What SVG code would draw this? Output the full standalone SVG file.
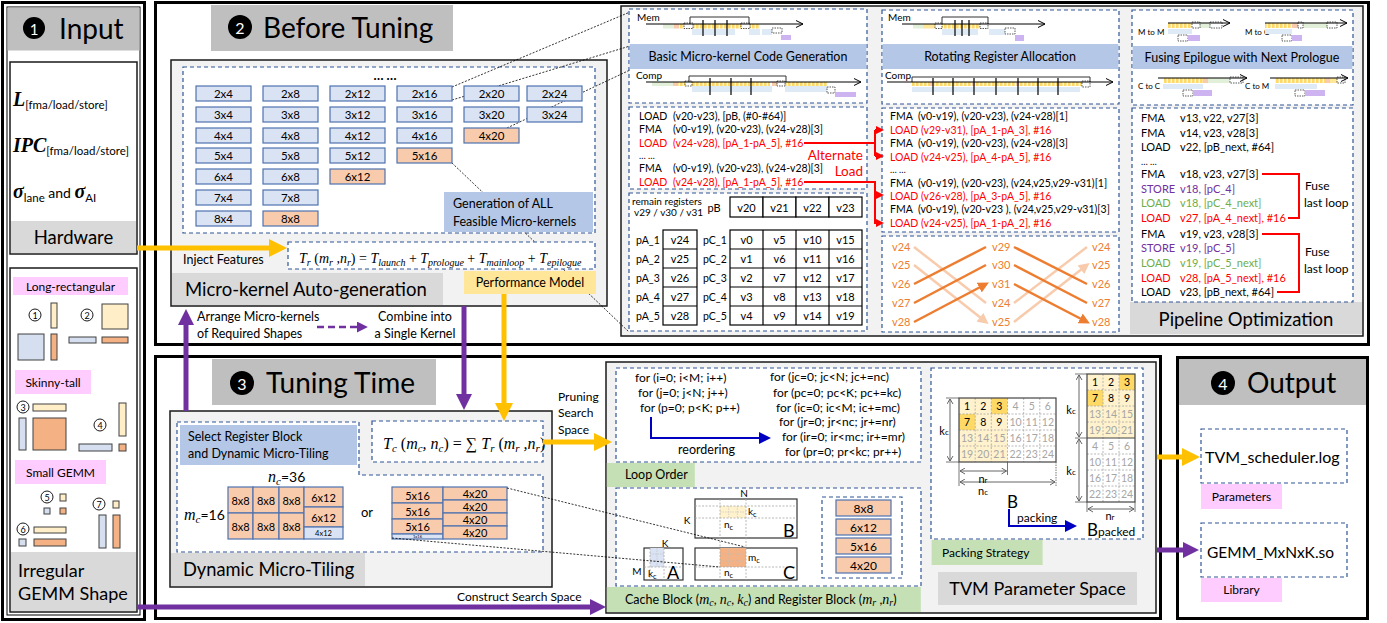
<svg xmlns="http://www.w3.org/2000/svg" width="1387" height="623" viewBox="0 0 1387 623">
<defs>
<style>
text{font-family:Lato,"Liberation Sans",sans-serif;fill:#000}
.m{font-family:"Liberation Serif",serif;font-style:italic}
.bi{font-family:"Liberation Serif",serif;font-style:italic;font-weight:bold}
.panel{fill:#fff;stroke:#000;stroke-width:3}
.inner{fill:none;stroke:#000;stroke-width:1}
.box{fill:#f2f2f2;stroke:#1a1a1a;stroke-width:1.5}
.wbox{fill:#fff;stroke:#1a1a1a;stroke-width:1.5}
.hdr{fill:#bfbfbf}
.ftr{fill:#d9d9d9}
.dash{fill:#fff;stroke:#2f5597;stroke-width:1.2;stroke-dasharray:4 3}
.blue{fill:#b4c7e7}
.green{fill:#c5e0b4}
.pink{fill:#ffccff}
.yel{fill:#ffe699}
.cb{fill:#dae3f3;stroke:#4f72b0;stroke-width:1.2}
.co{fill:#f8cbad;stroke:#4f72b0;stroke-width:1.2}
.c{text-anchor:middle;dominant-baseline:central}
.tc{font-size:11.5px;text-anchor:middle;dominant-baseline:central}
.reg{fill:#fff;stroke:#000;stroke-width:1.2}
.sy{fill:#ffeec8;stroke:#404040;stroke-width:1}
.sb{fill:#d5dfef;stroke:#404040;stroke-width:1}
.so{fill:#f4b183;stroke:#404040;stroke-width:1}
.cn{fill:#fff;stroke:#000;stroke-width:0.9}
.db{fill:#fff;stroke:#333;stroke-width:0.8;stroke-dasharray:1.5 1}
.tg{fill:#e2f0d9}.to{fill:#f8cbad}.tb{fill:#deebf7}.tp{fill:#cdb4f0}
.tick{stroke:#000;stroke-width:1.2}
.brk{fill:none;stroke:#333;stroke-width:1}
.tl{fill:none;stroke:#000;stroke-width:1;marker-end:url(#hK)}
.code{font-size:10.5px}
.red{fill:#ff0000}
.pur{fill:#7030a0}
.grn{fill:#70ad47}
.org{fill:#ed7d31;font-size:11px}
.link{fill:none;stroke:#000;stroke-width:0.8;stroke-dasharray:2 1.5}
.dim{fill:none;stroke:#555;stroke-width:0.9;marker-start:url(#hD);marker-end:url(#hD)}
.ext{fill:none;stroke:#555;stroke-width:0.8}
.dot{fill:none;stroke:#a6a6a6;stroke-width:0.8;stroke-dasharray:2 1.5}
.mat{fill:#fff;stroke:#333;stroke-width:1.2}
.n{font-size:10.5px;text-anchor:middle;dominant-baseline:central;fill:#a6a6a6}
.nk{font-size:10.5px;text-anchor:middle;dominant-baseline:central;fill:#000}
</style>
<pattern id="ys" patternUnits="userSpaceOnUse" width="4" height="8"><rect width="4" height="8" fill="#fff6dc"/><rect width="2.6" height="8" fill="#ffd966"/></pattern>
<marker id="hY" markerUnits="userSpaceOnUse" markerWidth="18" markerHeight="18" viewBox="0 0 18 18" refX="1" refY="9" orient="auto"><path d="M0,0L18,9L0,18z" fill="#ffc000"/></marker>
<marker id="hP" markerUnits="userSpaceOnUse" markerWidth="16" markerHeight="16" viewBox="0 0 16 16" refX="1" refY="8" orient="auto"><path d="M0,0L16,8L0,16z" fill="#7030a0"/></marker>
<marker id="hPs" markerUnits="userSpaceOnUse" markerWidth="11" markerHeight="11" viewBox="0 0 10 10" refX="1" refY="5" orient="auto"><path d="M0,0L10,5L0,10z" fill="#7030a0"/></marker>
<marker id="hR" markerUnits="userSpaceOnUse" markerWidth="8" markerHeight="8" viewBox="0 0 8 8" refX="1" refY="4" orient="auto"><path d="M0,0L8,4L0,8z" fill="#ff0000"/></marker>
<marker id="hB" markerUnits="userSpaceOnUse" markerWidth="12" markerHeight="12" viewBox="0 0 12 12" refX="1" refY="6" orient="auto"><path d="M0,0L12,6L0,12z" fill="#0000c0"/></marker>
<marker id="hO" markerUnits="userSpaceOnUse" markerWidth="11" markerHeight="11" viewBox="0 0 10 10" refX="7" refY="5" orient="auto"><path d="M0,0L10,5L0,10z" fill="#ed7d31"/></marker>
<marker id="hL" markerUnits="userSpaceOnUse" markerWidth="11" markerHeight="11" viewBox="0 0 10 10" refX="7" refY="5" orient="auto"><path d="M0,0L10,5L0,10z" fill="#f8cbad"/></marker>
<marker id="hK" markerUnits="userSpaceOnUse" markerWidth="9" markerHeight="9" viewBox="0 0 9 9" refX="8" refY="4.5" orient="auto"><path d="M1,1L8,4.5L1,8" fill="none" stroke="#000" stroke-width="1"/></marker>
<marker id="hD" markerUnits="userSpaceOnUse" markerWidth="7" markerHeight="7" viewBox="0 0 7 7" refX="6" refY="3.5" orient="auto-start-reverse"><path d="M1,0.5L6,3.5L1,6.5" fill="none" stroke="#555" stroke-width="0.9"/></marker>
</defs>

<rect width="1387" height="623" fill="#fff"/>

<!-- ===== 1 Input ===== -->
<g id="input-panel">
<rect class="panel" x="2.5" y="2.5" width="142" height="617"/>
<rect class="inner" x="7" y="7" width="133" height="608"/>
<rect class="hdr" x="7.5" y="7.5" width="132" height="43"/>
<circle cx="34" cy="28" r="11"/>
<text class="c" x="34" y="28.5" font-size="15" style="fill:#fff">1</text>
<text x="59" y="39" font-size="28">Input</text>
</g>

<g id="hardware">
<rect class="wbox" x="10" y="62" width="127" height="192"/>
<rect class="ftr" x="11" y="221" width="125" height="32"/>
<text x="73.5" y="244" font-size="18.5" text-anchor="middle">Hardware</text>
<text x="13" y="106"><tspan class="bi" font-size="20">L</tspan><tspan font-size="11.5" dy="3">[fma/load/store]</tspan></text>
<text x="13" y="152"><tspan class="bi" font-size="20">IPC</tspan><tspan font-size="11.5" dy="3">[fma/load/store]</tspan></text>
<text x="13" y="198"><tspan class="bi" font-size="20">σ</tspan><tspan font-size="11.5" dy="4">lane</tspan><tspan font-size="14" dy="-4"> and </tspan><tspan class="bi" font-size="20">σ</tspan><tspan font-size="11.5" dy="4">AI</tspan></text>
</g>

<g id="gemm-shapes">
<rect class="wbox" x="10" y="268" width="127" height="344"/>
<rect class="ftr" x="11" y="552" width="125" height="59"/>
<text x="18" y="577" font-size="18">Irregular</text>
<text x="18" y="600" font-size="18">GEMM Shape</text>
<rect class="pink" x="13" y="277" width="115" height="18"/>
<text class="c" x="70.5" y="286" font-size="12">Long-rectangular</text>
<rect class="pink" x="15" y="370" width="76" height="24"/>
<text class="c" x="53" y="382" font-size="12">Skinny-tall</text>
<rect class="pink" x="15" y="460" width="91" height="24"/>
<text class="c" x="60.5" y="472" font-size="12">Small GEMM</text>
<circle class="cn" cx="35" cy="315" r="6"/><text class="c" x="35" y="315.5" font-size="9">1</text>
<rect class="sy" x="51" y="303" width="6" height="25"/><rect class="sb" x="18" y="334" width="26" height="26"/><rect class="so" x="51" y="334" width="6" height="26"/>
<circle class="cn" cx="87" cy="315" r="6"/><text class="c" x="87" y="315.5" font-size="9">2</text>
<rect class="sy" x="102" y="304" width="26" height="25"/><rect class="sb" x="69" y="337" width="27" height="6"/><rect class="so" x="102" y="337" width="26" height="6"/>
<circle class="cn" cx="23" cy="407" r="6"/><text class="c" x="23" y="407.5" font-size="9">3</text>
<rect class="sy" x="33" y="404" width="33" height="7"/><rect class="sb" x="19" y="418" width="7" height="32"/><rect class="so" x="33" y="418" width="33" height="32"/>
<circle class="cn" cx="100" cy="425" r="6"/><text class="c" x="100" y="425.5" font-size="9">4</text>
<rect class="sy" x="119" y="403" width="7" height="33"/><rect class="sb" x="79" y="444" width="33" height="7"/><rect class="so" x="119" y="444" width="7" height="7"/>
<circle class="cn" cx="47" cy="497" r="6"/><text class="c" x="47" y="497.5" font-size="9">5</text>
<rect class="sy" x="60" y="494" width="6" height="7"/><rect class="sb" x="44" y="508" width="6" height="6"/><rect class="so" x="60" y="508" width="6" height="6"/>
<circle class="cn" cx="99" cy="504" r="6"/><text class="c" x="99" y="504.5" font-size="9">7</text>
<rect class="sy" x="113" y="501" width="6" height="7"/><rect class="sb" x="99" y="515" width="7" height="33"/><rect class="so" x="113" y="515" width="7" height="33"/>
<circle class="cn" cx="23" cy="529" r="6"/><text class="c" x="23" y="529.5" font-size="9">6</text>
<rect class="sy" x="34" y="527" width="32" height="6"/><rect class="sb" x="19" y="539" width="7" height="7"/><rect class="so" x="34" y="539" width="32" height="7"/>
</g>

<!-- ===== 2 Before Tuning ===== -->
<g id="before-tuning">
<rect class="panel" x="155.5" y="2.5" width="1213" height="342"/>
<rect class="hdr" x="211" y="5" width="242" height="46"/>
<circle cx="240" cy="27" r="12"/>
<text class="c" x="240" y="27.5" font-size="16" style="fill:#fff">2</text>
<text x="263" y="38" font-size="28">Before Tuning</text>
</g>

<g id="pipeline-optimization">
<rect class="box" x="621" y="6" width="742" height="330"/>
<rect class="ftr" x="1130" y="302" width="232" height="32"/>
<text x="1246" y="326" font-size="18.5" text-anchor="middle">Pipeline Optimization</text>
</g>

<g id="microkernel-autogen">
<rect class="box" x="171" y="60" width="436" height="246"/>
<rect class="dash" x="183" y="67" width="412" height="166"/>
<text x="385" y="80" font-size="13" text-anchor="middle" font-weight="bold">… …</text>
</g>

<g id="connectors-kernel-links">
<path class="link" d="M452,87L630,12"/>
<path class="link" d="M452,100L630,46"/>
<path class="link" d="M507,128L630,70"/>
<path class="link" d="M452,163L629,332"/>
</g>

<g id="kernel-grid">
<g id="k2x4"><rect class="cb" x="196" y="86" width="55" height="15"/><text class="tc" x="223.5" y="93.5">2x4</text></g>
<g id="k2x8"><rect class="cb" x="263" y="86" width="55" height="15"/><text class="tc" x="290.5" y="93.5">2x8</text></g>
<g id="k2x12"><rect class="cb" x="330" y="86" width="55" height="15"/><text class="tc" x="357.5" y="93.5">2x12</text></g>
<g id="k2x16"><rect class="cb" x="397" y="86" width="55" height="15"/><text class="tc" x="424.5" y="93.5">2x16</text></g>
<g id="k2x20"><rect class="cb" x="464" y="86" width="55" height="15"/><text class="tc" x="491.5" y="93.5">2x20</text></g>
<g id="k2x24"><rect class="cb" x="527" y="86" width="55" height="15"/><text class="tc" x="554.5" y="93.5">2x24</text></g>
<g id="k3x4"><rect class="cb" x="196" y="107" width="55" height="15"/><text class="tc" x="223.5" y="114.5">3x4</text></g>
<g id="k3x8"><rect class="cb" x="263" y="107" width="55" height="15"/><text class="tc" x="290.5" y="114.5">3x8</text></g>
<g id="k3x12"><rect class="cb" x="330" y="107" width="55" height="15"/><text class="tc" x="357.5" y="114.5">3x12</text></g>
<g id="k3x16"><rect class="cb" x="397" y="107" width="55" height="15"/><text class="tc" x="424.5" y="114.5">3x16</text></g>
<g id="k3x20"><rect class="cb" x="464" y="107" width="55" height="15"/><text class="tc" x="491.5" y="114.5">3x20</text></g>
<g id="k3x24"><rect class="cb" x="527" y="107" width="55" height="15"/><text class="tc" x="554.5" y="114.5">3x24</text></g>
<g id="k4x4"><rect class="cb" x="196" y="128" width="55" height="15"/><text class="tc" x="223.5" y="135.5">4x4</text></g>
<g id="k4x8"><rect class="cb" x="263" y="128" width="55" height="15"/><text class="tc" x="290.5" y="135.5">4x8</text></g>
<g id="k4x12"><rect class="cb" x="330" y="128" width="55" height="15"/><text class="tc" x="357.5" y="135.5">4x12</text></g>
<g id="k4x16"><rect class="cb" x="397" y="128" width="55" height="15"/><text class="tc" x="424.5" y="135.5">4x16</text></g>
<g id="k4x20"><rect class="co" x="464" y="128" width="55" height="15"/><text class="tc" x="491.5" y="135.5">4x20</text></g>
<g id="k5x4"><rect class="cb" x="196" y="148" width="55" height="15"/><text class="tc" x="223.5" y="155.5">5x4</text></g>
<g id="k5x8"><rect class="cb" x="263" y="148" width="55" height="15"/><text class="tc" x="290.5" y="155.5">5x8</text></g>
<g id="k5x12"><rect class="cb" x="330" y="148" width="55" height="15"/><text class="tc" x="357.5" y="155.5">5x12</text></g>
<g id="k5x16"><rect class="co" x="397" y="148" width="55" height="15"/><text class="tc" x="424.5" y="155.5">5x16</text></g>
<g id="k6x4"><rect class="cb" x="196" y="169" width="55" height="15"/><text class="tc" x="223.5" y="176.5">6x4</text></g>
<g id="k6x8"><rect class="cb" x="263" y="169" width="55" height="15"/><text class="tc" x="290.5" y="176.5">6x8</text></g>
<g id="k6x12"><rect class="co" x="330" y="169" width="55" height="15"/><text class="tc" x="357.5" y="176.5">6x12</text></g>
<g id="k7x4"><rect class="cb" x="196" y="190" width="55" height="15"/><text class="tc" x="223.5" y="197.5">7x4</text></g>
<g id="k7x8"><rect class="cb" x="263" y="190" width="55" height="15"/><text class="tc" x="290.5" y="197.5">7x8</text></g>
<g id="k8x4"><rect class="cb" x="196" y="211" width="55" height="15"/><text class="tc" x="223.5" y="218.5">8x4</text></g>
<g id="k8x8"><rect class="co" x="263" y="211" width="55" height="15"/><text class="tc" x="290.5" y="218.5">8x8</text></g>
</g>

<g id="generation-label">
<rect class="blue" x="444" y="192" width="149" height="40"/>
<text x="453" y="208" font-size="12.5">Generation of ALL</text>
<text x="453" y="226" font-size="12.5">Feasible Micro-kernels</text>
</g>

<g id="performance-model">
<rect class="dash" x="288" y="242" width="307" height="27"/>
<text x="299" y="263" class="m" font-size="14">T<tspan font-size="10" dy="3">r</tspan><tspan dy="-3" font-style="normal"> (</tspan>m<tspan font-size="10" dy="3">r</tspan><tspan dy="-3"> ,n</tspan><tspan font-size="10" dy="3">r</tspan><tspan dy="-3" font-style="normal">) = </tspan>T<tspan font-size="10" dy="3">launch</tspan><tspan dy="-3" font-style="normal"> + </tspan>T<tspan font-size="10" dy="3">prologue</tspan><tspan dy="-3" font-style="normal"> + </tspan>T<tspan font-size="10" dy="3">mainloop</tspan><tspan dy="-3" font-style="normal"> + </tspan>T<tspan font-size="10" dy="3">epilogue</tspan></text>
<text x="183" y="264" font-size="12.5">Inject Features</text>
<rect class="yel" x="464" y="271" width="132" height="23"/>
<text x="530" y="287" font-size="12.5" text-anchor="middle">Performance Model</text>
</g>

<g id="microkernel-footer">
<rect class="ftr" x="172" y="273" width="271" height="32"/>
<text x="185" y="296" font-size="18.5">Micro-kernel Auto-generation</text>
</g>

<g id="flow-notes">
<text x="197" y="321" font-size="12.5">Arrange Micro-kernels</text>
<text x="197" y="338" font-size="12.5">of Required Shapes</text>
<text x="415" y="321" font-size="12.5" text-anchor="middle">Combine into</text>
<text x="415" y="338" font-size="12.5" text-anchor="middle">a Single Kernel</text>
</g>

<!-- code generation column -->
<g id="basic-codegen">
<rect class="dash" x="629" y="9" width="238" height="94"/>
<rect class="blue" x="629.6" y="44" width="236.8" height="25"/>
<text x="748" y="61" font-size="12.5" text-anchor="middle">Basic Micro-kernel Code Generation</text>
<text x="637" y="21" font-size="10">Mem</text>
<rect class="tg" x="663" y="24" width="11" height="4.5"/><rect class="to" x="674" y="24" width="5" height="4.5"/><rect fill="url(#ys)" x="679" y="24" width="81" height="4.5"/>
<rect class="db" x="684" y="23" width="9" height="5.5"/><rect class="db" x="741" y="23" width="9" height="5.5"/>
<rect class="tb" x="692" y="29" width="43" height="6"/><rect class="tb" x="749" y="29" width="11" height="6"/><rect class="tb" x="762" y="29" width="10" height="6"/>
<rect class="db" x="772" y="28" width="10" height="5"/><rect class="tp" x="781" y="35" width="10" height="5"/>
<path class="brk" d="M690,24V17H749V24"/>
<path class="tl" d="M646,24H803"/>
<path class="tick" d="M703,20V36M715,20V36M727,20V36"/>
<text x="636" y="79" font-size="10">Comp</text>
<rect class="tg" x="652" y="82" width="21" height="4"/><rect class="to" x="673" y="82" width="5" height="4"/><rect fill="url(#ys)" x="678" y="82" width="92" height="4"/><rect class="to" x="772" y="82" width="5" height="4"/><rect fill="url(#ys)" x="785" y="82" width="42" height="4"/>
<rect class="db" x="685" y="81" width="7" height="5"/><rect class="db" x="777" y="81" width="8" height="5"/>
<rect class="tb" x="692" y="86" width="80" height="6"/><rect class="tb" x="785" y="86" width="42" height="6"/>
<rect class="db" x="827" y="87" width="8" height="6"/><rect class="tp" x="835" y="92" width="21" height="5"/>
<path class="brk" d="M689,82V76H786V82"/>
<path class="tl" d="M646,82H861"/>
<path class="tick" d="M710,78V95M731,78V95M751,78V95"/>
</g>

<g id="alternate-load-code">
<rect class="dash" x="629" y="107" width="238" height="82"/>
<text class="code" x="639" y="120">LOAD</text><text class="code" x="673" y="120">(v20-v23), [pB, (#0-#64)]</text>
<text class="code" x="639" y="133">FMA</text><text class="code" x="673" y="133">(v0-v19), (v20-v23), (v24-v28)[3]</text>
<text class="code red" x="639" y="147">LOAD</text><text class="code red" x="673" y="147">(v24-v28), [pA_1-pA_5], #16</text>
<text x="639" y="159" font-size="9">… …</text>
<text class="code" x="639" y="172">FMA</text><text class="code" x="673" y="172">(v0-v19), (v20-v23), (v24-v28)[3]</text>
<text class="code red" x="639" y="186">LOAD</text><text class="code red" x="673" y="186">(v24-v28), [pA_1-pA_5], #16</text>
<text class="red" x="863" y="160" font-size="13.5" text-anchor="end">Alternate</text>
<text class="red" x="863" y="176" font-size="13.5" text-anchor="end">Load</text>
</g>

<g id="register-map">
<rect class="dash" x="629" y="193" width="238" height="138"/>
<text x="632" y="204.5" font-size="10">remain registers</text>
<text x="634" y="215.5" font-size="10">v29 / v30 / v31</text>
<text class="c" x="714" y="207" font-size="11">pB</text>
<rect class="reg" x="730" y="197" width="33" height="20"/><rect class="reg" x="763" y="197" width="33" height="20"/><rect class="reg" x="796" y="197" width="33" height="20"/><rect class="reg" x="829" y="197" width="33" height="20"/>
<text class="c" x="746.5" y="207" font-size="11">v20</text><text class="c" x="779.5" y="207" font-size="11">v21</text><text class="c" x="812.5" y="207" font-size="11">v22</text><text class="c" x="845.5" y="207" font-size="11">v23</text>
<rect class="reg" x="663" y="230" width="34" height="95"/>
<path d="M663,249H697M663,268H697M663,287H697M663,306H697" stroke="#000" stroke-width="1.2"/>
<rect class="reg" x="730" y="230" width="132" height="95"/>
<path d="M730,249H862M730,268H862M730,287H862M730,306H862M763,230V325M796,230V325M829,230V325" stroke="#000" stroke-width="1.2"/>
<g font-size="10.5">
<text x="636" y="243.5">pA_1</text><text x="636" y="262.5">pA_2</text><text x="636" y="281.5">pA_3</text><text x="636" y="300.5">pA_4</text><text x="636" y="319.5">pA_5</text>
<text x="703" y="243.5">pC_1</text><text x="703" y="262.5">pC_2</text><text x="703" y="281.5">pC_3</text><text x="703" y="300.5">pC_4</text><text x="703" y="319.5">pC_5</text>
</g>
<g font-size="11" text-anchor="middle">
<text x="680" y="243.5">v24</text><text x="680" y="262.5">v25</text><text x="680" y="281.5">v26</text><text x="680" y="300.5">v27</text><text x="680" y="319.5">v28</text>
<text x="746.5" y="243.5">v0</text><text x="779.5" y="243.5">v5</text><text x="812.5" y="243.5">v10</text><text x="845.5" y="243.5">v15</text>
<text x="746.5" y="262.5">v1</text><text x="779.5" y="262.5">v6</text><text x="812.5" y="262.5">v11</text><text x="845.5" y="262.5">v16</text>
<text x="746.5" y="281.5">v2</text><text x="779.5" y="281.5">v7</text><text x="812.5" y="281.5">v12</text><text x="845.5" y="281.5">v17</text>
<text x="746.5" y="300.5">v3</text><text x="779.5" y="300.5">v8</text><text x="812.5" y="300.5">v13</text><text x="845.5" y="300.5">v18</text>
<text x="746.5" y="319.5">v4</text><text x="779.5" y="319.5">v9</text><text x="812.5" y="319.5">v14</text><text x="845.5" y="319.5">v19</text>
</g>
</g>

<!-- rotating register column -->
<g id="rotating-allocation">
<rect class="dash" x="882" y="10" width="237" height="94"/>
<rect class="blue" x="882.6" y="44" width="235.8" height="25"/>
<text x="1000" y="61" font-size="12.5" text-anchor="middle">Rotating Register Allocation</text>
<text x="888" y="21" font-size="10">Mem</text>
<rect class="tg" x="913" y="24" width="10" height="4.5"/><rect class="yel" x="923" y="24" width="12" height="4.5"/><rect fill="url(#ys)" x="942" y="24" width="38" height="4.5"/>
<rect class="db" x="935" y="23" width="7" height="5.5"/><rect class="db" x="980" y="23" width="8" height="5.5"/>
<rect class="tb" x="942" y="29" width="36" height="6"/><rect class="tb" x="989" y="29" width="16" height="6"/>
<rect class="db" x="1005" y="28" width="10" height="6"/><rect class="tp" x="1015" y="35" width="9" height="6"/>
<path class="brk" d="M942,24V17H988V24"/>
<path class="tl" d="M902,24H1045"/>
<path class="tick" d="M955,20V36M962,20V36M969,20V36"/>
<text x="885" y="79" font-size="10">Comp</text>
<rect fill="url(#ys)" x="912" y="82" width="170" height="4"/>
<rect class="to" x="930" y="82" width="3" height="4"/><rect class="to" x="972" y="82" width="3" height="4"/><rect class="to" x="1016" y="82" width="3" height="4"/><rect class="to" x="1057" y="82" width="3" height="4"/>
<rect class="tb" x="912" y="87" width="168" height="5"/>
<rect class="db" x="1082" y="81" width="8" height="6"/>
<path class="brk" d="M912,82V77H1090V82"/>
<path class="tl" d="M887,82H1113"/>
<path class="tick" d="M933,78V95M953,78V95M974,78V95M996,78V95M1018,78V95M1038,78V95M1058,78V95"/>
</g>

<g id="rotating-code">
<rect class="dash" x="882" y="108" width="237" height="124"/>
<text class="code" x="890" y="120">FMA</text><text class="code" x="918" y="120">(v0-v19), (v20-v23), (v24-v28)[1]</text>
<text class="code red" x="890" y="134">LOAD (v29-v31), [pA_1-pA_3], #16</text>
<text class="code" x="890" y="147">FMA</text><text class="code" x="918" y="147">(v0-v19), (v20-v23), (v24-v28)[3]</text>
<text class="code red" x="890" y="161">LOAD (v24-v25), [pA_4-pA_5], #16</text>
<text x="890" y="173" font-size="9">… …</text>
<text class="code" x="890" y="187">FMA</text><text class="code" x="918" y="187">(v0-v19), (v20-v23), (v24,v25,v29-v31)[1]</text>
<text class="code red" x="890" y="200">LOAD (v26-v28), [pA_3-pA_5], #16</text>
<text class="code" x="890" y="213">FMA</text><text class="code" x="918" y="213">(v0-v19), (v20-v23 ), (v24,v25,v29-v31)[3]</text>
<text class="code red" x="890" y="227">LOAD (v24-v25), [pA_1-pA_2], #16</text>
</g>

<g id="register-rotation">
<rect class="dash" x="882" y="236" width="237" height="96"/>
<g fill="none" stroke-width="2.5">
<path d="M914,247L986,303M914,265L986,322" stroke="#f8cbad" marker-end="url(#hL)"/>
<path d="M1014,303L1087,247M1014,322L1087,265" stroke="#f8cbad" marker-end="url(#hL)"/>
<path d="M914,284L986,247M914,303L986,265M914,322L986,284" stroke="#ed7d31" marker-end="url(#hO)"/>
<path d="M1014,247L1087,284M1014,265L1087,303M1014,284L1087,322" stroke="#ed7d31" marker-end="url(#hO)"/>
</g>
<text class="org" x="892" y="251">v24</text><text class="org" x="892" y="269">v25</text><text class="org" x="892" y="288">v26</text><text class="org" x="892" y="307">v27</text><text class="org" x="892" y="326">v28</text>
<text class="org" x="992" y="251">v29</text><text class="org" x="992" y="269">v30</text><text class="org" x="992" y="288">v31</text><text class="org" x="992" y="307">v24</text><text class="org" x="992" y="326">v25</text>
<text class="org" x="1092" y="251">v24</text><text class="org" x="1092" y="269">v25</text><text class="org" x="1092" y="288">v26</text><text class="org" x="1092" y="307">v27</text><text class="org" x="1092" y="326">v28</text>
</g>

<!-- epilogue fusion column -->
<g id="fusing-epilogue">
<rect class="dash" x="1132" y="10" width="221" height="95"/>
<rect class="blue" x="1132.6" y="46" width="219.8" height="23"/>
<text x="1242" y="62" font-size="12.5" text-anchor="middle">Fusing Epilogue with Next Prologue</text>
<g font-size="8">
<text x="1138" y="35">M to M</text><text x="1245" y="35">M to C</text><text x="1138" y="89">C to C</text><text x="1245" y="89">C to M</text>
</g>
<rect fill="url(#ys)" x="1168" y="23" width="24" height="5"/><rect class="tg" x="1200" y="23" width="10" height="5"/>
<rect class="db" x="1192" y="22" width="8" height="6"/><rect class="db" x="1210" y="22" width="12" height="6"/>
<rect class="tb" x="1168" y="29" width="24" height="5"/><rect class="db" x="1178" y="35" width="10" height="6"/><rect class="tp" x="1188" y="35" width="12" height="6"/>
<path class="tl" d="M1168,23H1230"/>
<rect fill="url(#ys)" x="1265" y="23" width="27" height="5"/><rect class="to" x="1292" y="23" width="6" height="5"/><rect class="tg" x="1303" y="23" width="24" height="5"/>
<rect class="db" x="1298" y="22" width="5" height="6"/><rect class="db" x="1327" y="22" width="10" height="6"/>
<rect class="tb" x="1265" y="29" width="27" height="5"/><rect class="db" x="1282" y="35" width="10" height="6"/><rect class="tp" x="1292" y="35" width="10" height="6"/>
<path class="tl" d="M1265,23H1347"/>
<rect fill="url(#ys)" x="1164" y="78" width="39" height="5"/><rect class="to" x="1203" y="78" width="5" height="5"/><rect class="tg" x="1208" y="78" width="22" height="5"/>
<rect class="db" x="1230" y="77" width="13" height="6"/>
<rect class="tb" x="1163" y="84" width="40" height="5"/><rect class="db" x="1183" y="90" width="10" height="6"/><rect class="tp" x="1193" y="90" width="19" height="6"/>
<path class="tl" d="M1158,78H1247"/>
<rect fill="url(#ys)" x="1275" y="78" width="50" height="5"/><rect class="to" x="1325" y="78" width="5" height="5"/><rect class="yel" x="1330" y="78" width="7" height="5"/>
<rect class="db" x="1337" y="77" width="8" height="6"/>
<rect class="tb" x="1275" y="84" width="42" height="5"/><rect class="db" x="1295" y="90" width="10" height="6"/><rect class="tp" x="1305" y="90" width="20" height="6"/>
<path class="tl" d="M1270,78H1348"/>
</g>

<g id="fused-code">
<rect class="dash" x="1132" y="108" width="221" height="194"/>
<g font-size="11">
<text x="1141" y="121.5">FMA</text><text x="1180" y="121.5">v13, v22, v27[3]</text>
<text x="1141" y="137">FMA</text><text x="1180" y="137">v14, v23, v28[3]</text>
<text x="1141" y="151">LOAD</text><text x="1180" y="151">v22, [pB_next, #64]</text>
<text x="1141" y="165" font-size="9">… …</text>
<text x="1141" y="178">FMA</text><text x="1180" y="178">v18, v23, v27[3]</text>
<text class="pur" x="1141" y="193">STORE</text><text class="pur" x="1180" y="193">v18, [pC_4]</text>
<text class="grn" x="1141" y="207">LOAD</text><text class="grn" x="1180" y="207">v18, [pC_4_next]</text>
<text class="red" x="1141" y="222">LOAD</text><text class="red" x="1180" y="222">v27, [pA_4_next], #16</text>
<text x="1141" y="238">FMA</text><text x="1180" y="238">v19, v23, v28[3]</text>
<text class="pur" x="1141" y="252">STORE</text><text class="pur" x="1180" y="252">v19, [pC_5]</text>
<text class="grn" x="1141" y="267">LOAD</text><text class="grn" x="1180" y="267">v19, [pC_5_next]</text>
<text class="red" x="1141" y="282">LOAD</text><text class="red" x="1180" y="282">v28, [pA_5_next], #16</text>
<text x="1141" y="296">LOAD</text><text x="1180" y="296">v23, [pB_next, #64]</text>
</g>
<path d="M1262,174H1299V218H1288M1262,234H1299V292H1277" fill="none" stroke="#ff0000" stroke-width="2"/>
<g class="red" font-size="12">
<text x="1305" y="190">Fuse</text><text x="1304" y="207">last loop</text>
<text x="1305" y="256">Fuse</text><text x="1304" y="273">last loop</text>
</g>
</g>

<!-- ===== 3 Tuning Time ===== -->
<g id="tuning-time">
<rect class="panel" x="155.5" y="356.5" width="1005" height="262"/>
<rect class="hdr" x="212" y="359" width="224" height="46"/>
<circle cx="242" cy="383" r="12"/>
<text class="c" x="242" y="383.5" font-size="16" style="fill:#fff">3</text>
<text x="266" y="393" font-size="28">Tuning Time</text>
</g>

<g id="dynamic-micro-tiling">
<rect class="box" x="170" y="411" width="382" height="176"/>
<path d="M177,422H359V475H543V552H177Z" fill="#fff" stroke="#2f5597" stroke-width="1.2" stroke-dasharray="4 3"/>
<rect class="blue" x="180" y="425" width="177" height="40"/>
<text x="188" y="441" font-size="12.5">Select Register Block</text>
<text x="188" y="458" font-size="12.5">and Dynamic Micro-Tiling</text>
<text x="268" y="482"><tspan class="m" font-size="16">n</tspan><tspan class="m" font-size="11" dy="3">c</tspan><tspan dy="-3" font-size="14">=36</tspan></text>
<text x="184" y="520"><tspan class="m" font-size="16">m</tspan><tspan class="m" font-size="11" dy="3">c</tspan><tspan dy="-3" font-size="14">=16</tspan></text>
<g font-size="11">
<rect class="co" x="228" y="487" width="25" height="26"/><text class="c" x="240.5" y="500">8x8</text>
<rect class="co" x="253" y="487" width="26" height="26"/><text class="c" x="266" y="500">8x8</text>
<rect class="co" x="279" y="487" width="25" height="26"/><text class="c" x="291.5" y="500">8x8</text>
<rect class="co" x="228" y="513" width="25" height="26"/><text class="c" x="240.5" y="526">8x8</text>
<rect class="co" x="253" y="513" width="26" height="26"/><text class="c" x="266" y="526">8x8</text>
<rect class="co" x="279" y="513" width="25" height="26"/><text class="c" x="291.5" y="526">8x8</text>
<rect class="co" x="304" y="487" width="39" height="20"/><text class="c" x="323.5" y="497">6x12</text>
<rect class="co" x="304" y="507" width="39" height="20"/><text class="c" x="323.5" y="517">6x12</text>
<rect class="cb" x="304" y="527" width="39" height="12"/><text class="c" x="323.5" y="533" font-size="7.5">4x12</text>
</g>
<text class="c" x="367" y="512" font-size="13">or</text>
<g font-size="11">
<rect class="co" x="392" y="487" width="51" height="16"/><text class="c" x="417.5" y="495">5x16</text>
<rect class="co" x="392" y="503" width="51" height="16"/><text class="c" x="417.5" y="511">5x16</text>
<rect class="co" x="392" y="519" width="51" height="15"/><text class="c" x="417.5" y="526.5">5x16</text>
<rect class="cb" x="392" y="534" width="51" height="5"/><text class="c" x="417.5" y="536.5" font-size="4">1x16</text>
<rect class="co" x="443" y="487" width="64" height="13"/><text class="c" x="475" y="493.5">4x20</text>
<rect class="co" x="443" y="500" width="64" height="13"/><text class="c" x="475" y="506.5">4x20</text>
<rect class="co" x="443" y="513" width="64" height="13"/><text class="c" x="475" y="519.5">4x20</text>
<rect class="co" x="443" y="526" width="64" height="13"/><text class="c" x="475" y="532.5">4x20</text>
</g>
<rect class="dash" x="372" y="421" width="171" height="41"/>
<text x="383" y="449" class="m" font-size="16">T<tspan font-size="11" dy="3">c</tspan><tspan dy="-3" font-style="normal"> (</tspan>m<tspan font-size="11" dy="3">c</tspan><tspan dy="-3">, n</tspan><tspan font-size="11" dy="3">c</tspan><tspan dy="-3" font-style="normal">) = ∑ </tspan>T<tspan font-size="11" dy="3">r</tspan><tspan dy="-3" font-style="normal"> (</tspan>m<tspan font-size="11" dy="3">r</tspan><tspan dy="-3"> ,n</tspan><tspan font-size="11" dy="3">r</tspan><tspan dy="-3" font-style="normal">)</tspan></text>
<rect class="ftr" x="171" y="553" width="194" height="33"/>
<text x="183" y="576" font-size="18.3">Dynamic Micro-Tiling</text>
</g>

<g id="search-notes">
<text x="558" y="401" font-size="12">Pruning</text>
<text x="558" y="417" font-size="12">Search</text>
<text x="558" y="434" font-size="12">Space</text>
<text x="457" y="601" font-size="12">Construct Search Space</text>
</g>

<g id="tvm-parameter-space">
<rect class="box" x="606" y="362" width="550" height="251"/>
<rect class="ftr" x="938" y="572" width="199" height="33"/>
<text x="1037.5" y="595" font-size="18" text-anchor="middle">TVM Parameter Space</text>
</g>

<g id="loop-order">
<rect class="dash" x="616" y="368" width="305" height="94"/>
<g font-size="12">
<text x="635" y="382">for (i=0; i&lt;M; i++)</text>
<text x="638" y="397">for (j=0; j&lt;N; j++)</text>
<text x="640" y="412">for (p=0; p&lt;K; p++)</text>
<text x="770" y="381">for (jc=0; jc&lt;N; jc+=nc)</text>
<text x="773" y="397">for (pc=0; pc&lt;K; pc+=kc)</text>
<text x="776" y="412">for (ic=0; ic&lt;M; ic+=mc)</text>
<text x="779" y="426">for (jr=0; jr&lt;nc; jr+=nr)</text>
<text x="782" y="441">for (ir=0; ir&lt;mc; ir+=mr)</text>
<text x="785" y="456">for (pr=0; pr&lt;kc; pr++)</text>
</g>
<text x="678" y="454" font-size="12.5">reordering</text>
<rect class="green" x="606.8" y="463" width="88" height="24"/>
<text x="625" y="479" font-size="12.5">Loop Order</text>
</g>

<g id="cache-block">
<rect class="dash" x="616" y="488" width="305" height="98"/>
<rect class="mat" x="695" y="499" width="102" height="39"/>
<rect class="mat" x="695" y="548" width="102" height="32"/>
<rect class="mat" x="644" y="548" width="39" height="32"/>
<rect x="720" y="506" width="26" height="12" fill="#fff2cc"/>
<rect x="720" y="548" width="26" height="19" fill="#f4b183"/>
<rect x="650" y="548" width="14" height="19" fill="#dae3f3"/>
<path class="dot" d="M720,499V580M746,499V580M695,506H797M695,518H797M695,567H797M650,548V580M664,548V580M644,567H683"/>
<path d="M728.7,506V518M737.3,506V518M720,512H746M728.7,548V567M737.3,548V567M720,554H746M720,561H746M657,548V567M650,554H664M650,561H664" fill="none" stroke="#bfbfbf" stroke-width="0.6" stroke-dasharray="1.5 1"/>
<g font-size="10">
<text class="c" x="744" y="493">N</text>
<text class="c" x="687" y="520">K</text>
<text x="748" y="515">k<tspan font-size="7.5" dy="2">c</tspan></text>
<text x="724" y="528">n<tspan font-size="7.5" dy="2">c</tspan></text>
<text class="c" x="665" y="543">K</text>
<text class="c" x="637" y="571">M</text>
<text x="648" y="577">k<tspan font-size="7.5" dy="2">c</tspan></text>
<text x="748" y="561">m<tspan font-size="7.5" dy="2">c</tspan></text>
<text x="724" y="576">n<tspan font-size="7.5" dy="2">c</tspan></text>
</g>
<text x="783" y="537" font-size="18">B</text>
<text x="783" y="579" font-size="18">C</text>
<text x="667" y="579" font-size="18">A</text>
<rect class="dash" x="822" y="497" width="80" height="81"/>
<g font-size="12">
<rect class="co" x="836" y="500" width="55" height="16"/><text class="c" x="863.5" y="508">8x8</text>
<rect class="co" x="836" y="519" width="55" height="16"/><text class="c" x="863.5" y="527">6x12</text>
<rect class="co" x="836" y="538" width="55" height="16"/><text class="c" x="863.5" y="546">5x16</text>
<rect class="co" x="836" y="557" width="55" height="16"/><text class="c" x="863.5" y="565">4x20</text>
</g>
<rect class="green" x="606.8" y="587" width="314" height="25"/>
<text x="625" y="604" font-size="12.5">Cache Block (<tspan class="m" font-size="14">m</tspan><tspan class="m" font-size="10" dy="2">c</tspan><tspan dy="-2">, </tspan><tspan class="m" font-size="14">n</tspan><tspan class="m" font-size="10" dy="2">c</tspan><tspan dy="-2">, </tspan><tspan class="m" font-size="14">k</tspan><tspan class="m" font-size="10" dy="2">c</tspan><tspan dy="-2">) and Register Block (</tspan><tspan class="m" font-size="14">m</tspan><tspan class="m" font-size="10" dy="2">r</tspan><tspan dy="-2"> ,</tspan><tspan class="m" font-size="14">n</tspan><tspan class="m" font-size="10" dy="2">r</tspan><tspan dy="-2">)</tspan></text>
</g>

<g id="packing-strategy">
<rect class="dash" x="931" y="368" width="212" height="171"/>
<rect x="959" y="398" width="48.5" height="64" fill="#fff2cc"/>
<rect x="991.3" y="398" width="16.2" height="16" fill="#ffd966"/>
<rect x="959" y="414" width="16.2" height="16" fill="#ffd966"/>
<path class="dot" d="M975.2,398V462M991.3,398V462M1007.5,398V462M1023.7,398V462M1039.8,398V462M959,414H1056M959,430H1056M959,446H1056"/>
<rect x="959" y="398" width="97" height="64" fill="none" stroke="#444" stroke-width="1.2"/>
<text class="nk" x="967.1" y="406">1</text><text class="nk" x="983.2" y="406">2</text><text class="nk" x="999.4" y="406">3</text><text class="n" x="1015.6" y="406">4</text><text class="n" x="1031.7" y="406">5</text><text class="n" x="1047.9" y="406">6</text>
<text class="nk" x="967.1" y="422">7</text><text class="nk" x="983.2" y="422">8</text><text class="nk" x="999.4" y="422">9</text><text class="n" x="1015.6" y="422">10</text><text class="n" x="1031.7" y="422">11</text><text class="n" x="1047.9" y="422">12</text>
<text class="n" x="967.1" y="438">13</text><text class="n" x="983.2" y="438">14</text><text class="n" x="999.4" y="438">15</text><text class="n" x="1015.6" y="438">16</text><text class="n" x="1031.7" y="438">17</text><text class="n" x="1047.9" y="438">18</text>
<text class="n" x="967.1" y="454">19</text><text class="n" x="983.2" y="454">20</text><text class="n" x="999.4" y="454">21</text><text class="n" x="1015.6" y="454">22</text><text class="n" x="1031.7" y="454">23</text><text class="n" x="1047.9" y="454">24</text>
<path class="ext" d="M946,398H959M946,462H959M959,462V486M1007.5,462V475"/>
<path class="ext" d="M1056,462V486" stroke-dasharray="1.5 1"/>
<path class="dim" d="M950,399V461"/>
<path class="dim" d="M960,471H1006.5"/>
<path class="dim" d="M960,482H1055"/>
<text class="c" x="944" y="430" font-size="11">k<tspan font-size="8" dy="2">c</tspan></text>
<text class="c" x="983" y="478" font-size="11">n<tspan font-size="8" dy="2">r</tspan></text>
<text class="c" x="983" y="490" font-size="11">n<tspan font-size="8" dy="2">c</tspan></text>
<text x="1007" y="508" font-size="17">B</text>
<text x="1017" y="522" font-size="12">packing</text>
<text x="1087" y="536" font-size="17">B<tspan font-size="12">packed</tspan></text>
<rect x="1087" y="374" width="48" height="64" fill="#fff2cc"/>
<rect x="1119" y="374" width="16" height="16" fill="#ffd966"/>
<rect x="1087" y="390" width="16" height="16" fill="#ffd966"/>
<path class="dot" d="M1103,374V502M1119,374V502M1087,390H1135M1087,406H1135M1087,422H1135M1087,454H1135M1087,470H1135M1087,486H1135"/>
<rect x="1087" y="374" width="48" height="128" fill="none" stroke="#444" stroke-width="1.2"/>
<path d="M1087,438H1135" stroke="#444" stroke-width="1"/>
<text class="nk" x="1095" y="382">1</text><text class="nk" x="1111" y="382">2</text><text class="nk" x="1127" y="382">3</text>
<text class="nk" x="1095" y="398">7</text><text class="nk" x="1111" y="398">8</text><text class="nk" x="1127" y="398">9</text>
<text class="n" x="1095" y="414">13</text><text class="n" x="1111" y="414">14</text><text class="n" x="1127" y="414">15</text>
<text class="n" x="1095" y="430">19</text><text class="n" x="1111" y="430">20</text><text class="n" x="1127" y="430">21</text>
<text class="n" x="1095" y="446">4</text><text class="n" x="1111" y="446">5</text><text class="n" x="1127" y="446">6</text>
<text class="n" x="1095" y="462">10</text><text class="n" x="1111" y="462">11</text><text class="n" x="1127" y="462">12</text>
<text class="n" x="1095" y="478">16</text><text class="n" x="1111" y="478">17</text><text class="n" x="1127" y="478">18</text>
<text class="n" x="1095" y="494">22</text><text class="n" x="1111" y="494">23</text><text class="n" x="1127" y="494">24</text>
<path class="ext" d="M1075,374H1087M1075,438H1087M1075,502H1087M1087,502V512M1135,502V512"/>
<path class="dim" d="M1079,375V437"/>
<path class="dim" d="M1079,439V501"/>
<path class="dim" d="M1088,509H1134"/>
<text class="c" x="1071" y="409" font-size="11">k<tspan font-size="8" dy="2">c</tspan></text>
<text class="c" x="1071" y="470" font-size="11">k<tspan font-size="8" dy="2">c</tspan></text>
<text class="c" x="1110" y="515" font-size="11">n<tspan font-size="8" dy="2">r</tspan></text>
<rect class="green" x="931.6" y="540" width="111" height="25"/>
<text x="942" y="557" font-size="12">Packing Strategy</text>
</g>

<g id="connectors-tiling-links">
<path class="link" d="M507,488L745,547"/>
<path class="link" d="M392,538L720,567"/>
</g>

<!-- ===== 4 Output ===== -->
<g id="output-panel">
<rect class="panel" x="1177.5" y="357.5" width="190" height="261"/>
<rect class="hdr" x="1179" y="359" width="187" height="46"/>
<circle cx="1223" cy="383" r="12"/>
<text class="c" x="1223" y="383.5" font-size="16" style="fill:#fff">4</text>
<text x="1247" y="393" font-size="28">Output</text>
</g>
<g id="scheduler-log">
<rect class="dash" x="1201" y="429" width="146" height="54"/>
<text x="1205" y="463" font-size="16">TVM_scheduler.log</text>
<rect class="pink" x="1201" y="484" width="81" height="25"/>
<text x="1241.5" y="501" font-size="12" text-anchor="middle">Parameters</text>
</g>
<g id="gemm-library">
<rect class="dash" x="1201" y="523" width="146" height="54"/>
<text x="1207" y="558" font-size="15.5">GEMM_MxNxK.so</text>
<rect class="pink" x="1201" y="578" width="81" height="24"/>
<text x="1241.5" y="594" font-size="12" text-anchor="middle">Library</text>
</g>

<!-- ===== connectors ===== -->
<g id="connectors">
<g fill="none" stroke="#ffc000" stroke-width="5" marker-end="url(#hY)">
<path d="M137,248H270"/>
<path d="M504,294V404"/>
<path d="M543,442H595"/>
<path d="M1157,457H1183"/>
</g>
<g fill="none" stroke="#7030a0" stroke-width="5" marker-end="url(#hP)">
<path d="M186,411V324"/>
<path d="M464,306V395"/>
<path d="M137,607H591"/>
<path d="M1157,550H1184"/>
</g>
<path d="M317,327H358" fill="none" stroke="#7030a0" stroke-width="2.5" stroke-dasharray="7 4" marker-end="url(#hPs)"/>
<g fill="none" stroke="#ff0000" stroke-width="2">
<path d="M804,143H875M875,130V156"/>
<path d="M875,130H877" marker-end="url(#hR)"/>
<path d="M875,156H877" marker-end="url(#hR)"/>
<path d="M804,182H875V223H877" marker-end="url(#hR)"/>
<path d="M875,195H877" marker-end="url(#hR)"/>
</g>
<g fill="none" stroke="#0000c0" stroke-width="2" marker-end="url(#hB)">
<path d="M651,417V438H760"/>
<path d="M1009,509V526H1066"/>
</g>
</g>
</svg>
